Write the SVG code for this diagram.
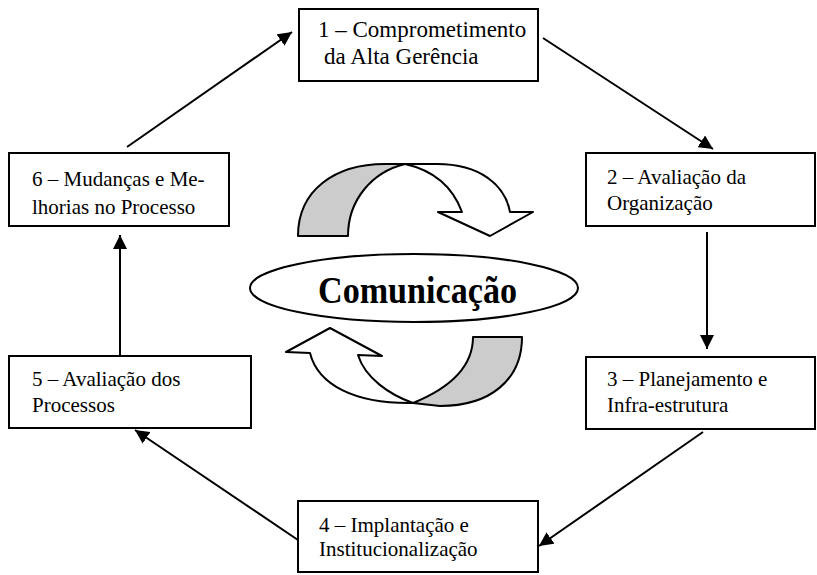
<svg xmlns="http://www.w3.org/2000/svg" width="817" height="575" viewBox="0 0 817 575">
<style>
.box{fill:#fff;stroke:#000;stroke-width:2}
.t{font-family:'Liberation Serif',serif;font-size:21px;fill:#000}
.t1{font-size:23px}
.c{fill:none;stroke:#000;stroke-width:2}
.sh{stroke:#000;stroke-width:2;stroke-linejoin:round}
</style>
<defs>
<marker id="ah" viewBox="0 0 14 14" refX="14" refY="7" markerWidth="14" markerHeight="14" orient="auto" markerUnits="userSpaceOnUse">
<path d="M0,0 L14,7 L0,14 Z" fill="#000"/>
</marker>
</defs>
<rect width="817" height="575" fill="#fff"/>
<g id="connectors">
<line class="c" x1="127" y1="147" x2="292" y2="32" marker-end="url(#ah)"/>
<line class="c" x1="543" y1="38" x2="713" y2="149" marker-end="url(#ah)"/>
<line class="c" x1="707" y1="232" x2="707" y2="349" marker-end="url(#ah)"/>
<line class="c" x1="703" y1="432" x2="539" y2="546" marker-end="url(#ah)"/>
<line class="c" x1="298" y1="540" x2="135" y2="430" marker-end="url(#ah)"/>
<line class="c" x1="120" y1="356" x2="120" y2="235" marker-end="url(#ah)"/>
</g>
<g id="node1">
<rect class="box" x="299" y="9" width="239" height="72"/>
<text class="t t1" x="318" y="37">1 – Comprometimento</text>
<text class="t t1" x="324" y="64">da Alta Gerência</text>
</g>
<g id="node2">
<rect class="box" x="586" y="153" width="229" height="73"/>
<text class="t" x="607" y="184">2 – Avaliação da</text>
<text class="t" x="607" y="210">Organização</text>
</g>
<g id="node3">
<rect class="box" x="586" y="357" width="229" height="72"/>
<text class="t" x="607" y="386">3 – Planejamento e</text>
<text class="t" x="607" y="412">Infra-estrutura</text>
</g>
<g id="node4">
<rect class="box" x="298" y="501" width="240" height="71"/>
<text class="t" x="319" y="532">4 – Implantação e</text>
<text class="t" x="319" y="556">Institucionalização</text>
</g>
<g id="node5">
<rect class="box" x="9" y="356" width="242" height="72"/>
<text class="t" x="32" y="386">5 – Avaliação dos</text>
<text class="t" x="32" y="412">Processos</text>
</g>
<g id="node6">
<rect class="box" x="9" y="153" width="220" height="73"/>
<text class="t" x="32" y="186">6 – Mudanças e Me-</text>
<text class="t" x="32" y="214">lhorias no Processo</text>
</g>
<g id="cycle-top">
<path class="sh" fill="#cccccc" d="M298,236 C298,190 335,164 385,164 L405,164 C372,172 348,200 348,236 Z"/>
<path class="sh" fill="#fff" d="M405,164 L437,164 C480,164 505,185 510,212 L533,212 L490,236 L438,212 L462,212 C452,185 432,170 405,164 Z"/>
</g>
<g id="cycle-bottom">
<path class="sh" fill="#cccccc" d="M473,337 L522,337 C522,380 490,406 440,406 L413,403 C445,390 473,370 473,337 Z"/>
<path class="sh" fill="#fff" d="M310,353 C318,385 355,404 413,403 C390,395 365,378 358,355 L382,356 L330,328 L286,352 Z"/>
</g>
<g id="communication">
<ellipse cx="414" cy="288" rx="164" ry="34" fill="#fff" stroke="#000" stroke-width="2"/>
<text x="318" y="303" font-family="Liberation Serif, serif" font-size="37" font-weight="bold" textLength="199" lengthAdjust="spacingAndGlyphs">Comunicação</text>
</g>
</svg>
